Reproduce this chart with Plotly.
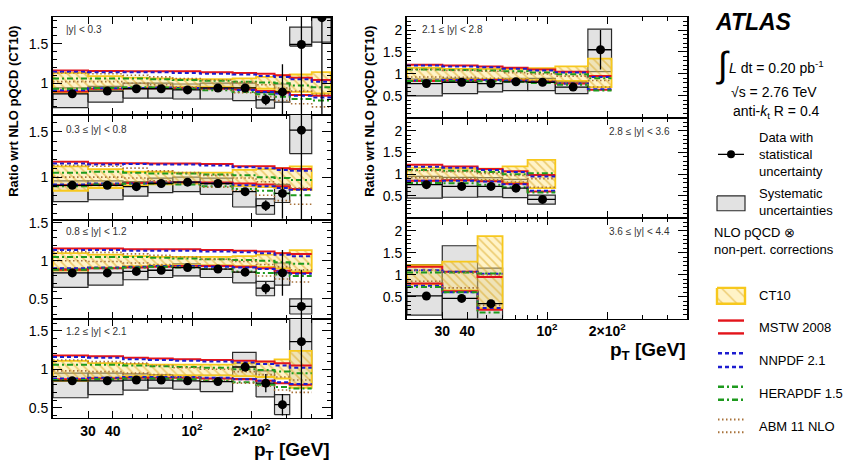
import math
import plotly.graph_objects as go

W, H = 843, 462
FONT = "Liberation Sans, Arial, Helvetica, sans-serif"

# ---------------- data ----------------
pt_edges = [20, 30, 45, 60, 80, 110, 160, 210, 260, 310, 400, 500]
pt_centers = [25, 37.5, 52.5, 70, 95, 135, 185, 235, 285, 355, 450]

# |y| < 0.3
l1_ratio = [0.865, 0.90, 0.93, 0.93, 0.915, 0.94, 0.94, 0.79, 0.89, 1.49, 1.83]
l1_stat = [0.01, 0.01, 0.01, 0.01, 0.01, 0.015, 0.03, 0.07, 0.35, 0.95, 1.3]
l1_sys_lo = [0.69, 0.76, 0.81, 0.81, 0.80, 0.80, 0.78, 0.685, 0.76, 1.47, 1.52]
l1_sys_hi = [0.94, 0.96, 1.00, 1.00, 0.99, 1.00, 1.00, 0.88, 0.99, 1.71, 2.2]
l1_ct10_lo = [0.88, 0.92, 0.94, 0.95, 0.95, 0.95, 0.94, 0.93, 0.90, 0.89, 0.87]
l1_ct10_hi = [1.13, 1.09, 1.07, 1.06, 1.05, 1.05, 1.06, 1.08, 1.10, 1.11, 1.14]
l1_mstw_lo = [0.895, 0.93, 0.935, 0.935, 0.935, 0.93, 0.92, 0.90, 0.88, 0.85, 0.84]
l1_mstw_hi = [1.16, 1.155, 1.15, 1.15, 1.15, 1.14, 1.13, 1.12, 1.10, 1.07, 1.04]
l1_nnpdf_lo = [0.91, 0.935, 0.94, 0.945, 0.94, 0.93, 0.915, 0.89, 0.87, 0.84, 0.82]
l1_nnpdf_hi = [1.145, 1.14, 1.14, 1.14, 1.13, 1.12, 1.11, 1.09, 1.08, 1.05, 1.02]
l1_hera_lo = [0.93, 0.94, 0.95, 0.945, 0.93, 0.91, 0.89, 0.86, 0.83, 0.80, 0.78]
l1_hera_hi = [1.06, 1.06, 1.06, 1.05, 1.04, 1.03, 1.02, 1.01, 1.00, 0.97, 0.95]
l1_abm_lo = [1.02, 1.02, 1.00, 0.98, 0.95, 0.92, 0.88, 0.83, 0.78, 0.74, 0.70]
l1_abm_hi = [1.13, 1.12, 1.10, 1.08, 1.06, 1.04, 1.01, 0.98, 0.94, 0.90, 0.86]

# 0.3 <= |y| < 0.8
l2_ratio = [0.91, 0.91, 0.895, 0.93, 0.945, 0.93, 0.84, 0.685, 0.82, 1.52]
l2_stat = [0.01, 0.01, 0.01, 0.01, 0.01, 0.015, 0.04, 0.06, 0.28, 1.0]
l2_sys_lo = [0.73, 0.75, 0.79, 0.83, 0.84, 0.81, 0.67, 0.59, 0.72, 1.26]
l2_sys_hi = [0.96, 0.96, 0.95, 0.99, 1.00, 0.99, 0.93, 0.76, 0.92, 1.80]
l2_ct10_lo = [0.85, 0.88, 0.91, 0.92, 0.93, 0.93, 0.90, 0.89, 0.88, 0.86]
l2_ct10_hi = [1.12, 1.09, 1.06, 1.06, 1.05, 1.05, 1.08, 1.09, 1.10, 1.12]
l2_mstw_lo = [0.91, 0.92, 0.935, 0.94, 0.945, 0.94, 0.93, 0.92, 0.90, 0.87]
l2_mstw_hi = [1.17, 1.155, 1.155, 1.15, 1.15, 1.145, 1.12, 1.12, 1.10, 1.09]
l2_nnpdf_lo = [0.92, 0.93, 0.93, 0.94, 0.94, 0.93, 0.91, 0.90, 0.88, 0.86]
l2_nnpdf_hi = [1.15, 1.14, 1.145, 1.14, 1.14, 1.13, 1.11, 1.10, 1.08, 1.07]
l2_hera_lo = [0.90, 0.92, 0.93, 0.93, 0.92, 0.90, 0.87, 0.85, 0.82, 0.80]
l2_hera_hi = [1.05, 1.06, 1.05, 1.04, 1.04, 1.03, 1.02, 1.00, 0.99, 0.97]
l2_abm_lo = [1.00, 1.00, 0.99, 0.96, 0.93, 0.89, 0.85, 0.80, 0.74, 0.70]
l2_abm_hi = [1.13, 1.12, 1.10, 1.07, 1.05, 1.02, 0.99, 0.95, 0.92, 0.88]

# 0.8 <= |y| < 1.2
l3_ratio = [0.84, 0.84, 0.86, 0.875, 0.91, 0.89, 0.85, 0.64, 0.84, 0.40]
l3_stat = [0.01, 0.01, 0.01, 0.01, 0.01, 0.015, 0.04, 0.08, 0.30, 0.48]
l3_sys_lo = [0.65, 0.68, 0.75, 0.78, 0.80, 0.78, 0.71, 0.54, 0.68, 0.30]
l3_sys_hi = [0.90, 0.90, 0.92, 0.93, 0.96, 0.94, 0.92, 0.73, 0.97, 0.50]
l3_ct10_lo = [0.87, 0.91, 0.93, 0.94, 0.94, 0.94, 0.93, 0.92, 0.90, 0.86]
l3_ct10_hi = [1.10, 1.08, 1.06, 1.05, 1.05, 1.05, 1.06, 1.08, 1.10, 1.14]
l3_mstw_lo = [0.88, 0.90, 0.91, 0.92, 0.93, 0.93, 0.92, 0.90, 0.87, 0.84]
l3_mstw_hi = [1.16, 1.16, 1.15, 1.15, 1.15, 1.14, 1.13, 1.12, 1.10, 1.09]
l3_nnpdf_lo = [0.90, 0.91, 0.92, 0.93, 0.93, 0.92, 0.91, 0.89, 0.86, 0.83]
l3_nnpdf_hi = [1.14, 1.14, 1.13, 1.13, 1.13, 1.12, 1.11, 1.10, 1.08, 1.06]
l3_hera_lo = [0.88, 0.90, 0.91, 0.92, 0.91, 0.89, 0.86, 0.84, 0.82, 0.80]
l3_hera_hi = [1.05, 1.05, 1.05, 1.04, 1.03, 1.02, 1.01, 1.00, 0.98, 0.96]
l3_abm_lo = [1.00, 0.99, 0.97, 0.95, 0.92, 0.89, 0.85, 0.80, 0.76, 0.72]
l3_abm_hi = [1.12, 1.11, 1.09, 1.07, 1.05, 1.02, 0.99, 0.95, 0.92, 0.88]

# 1.2 <= |y| < 2.1
l4_ratio = [0.85, 0.85, 0.86, 0.86, 0.85, 0.84, 1.03, 0.82, 0.54, 1.36]
l4_stat = [0.01, 0.01, 0.01, 0.01, 0.01, 0.015, 0.06, 0.12, 0.14, 1.1]
l4_sys_lo = [0.63, 0.67, 0.73, 0.755, 0.74, 0.71, 0.88, 0.64, 0.41, 0.80]
l4_sys_hi = [0.95, 0.95, 0.94, 0.93, 0.92, 0.92, 1.22, 0.98, 0.67, 1.90]
l4_ct10_lo = [0.85, 0.89, 0.91, 0.92, 0.92, 0.92, 0.91, 0.90, 0.88, 0.76]
l4_ct10_hi = [1.11, 1.08, 1.07, 1.06, 1.06, 1.06, 1.08, 1.10, 1.13, 1.24]
l4_mstw_lo = [0.87, 0.88, 0.89, 0.89, 0.89, 0.88, 0.87, 0.85, 0.82, 0.80]
l4_mstw_hi = [1.18, 1.17, 1.15, 1.14, 1.13, 1.12, 1.11, 1.10, 1.08, 1.05]
l4_nnpdf_lo = [0.88, 0.89, 0.90, 0.90, 0.90, 0.89, 0.87, 0.85, 0.83, 0.81]
l4_nnpdf_hi = [1.16, 1.15, 1.13, 1.12, 1.11, 1.10, 1.09, 1.07, 1.05, 1.02]
l4_hera_lo = [0.86, 0.87, 0.88, 0.88, 0.87, 0.85, 0.83, 0.80, 0.77, 0.75]
l4_hera_hi = [1.06, 1.06, 1.05, 1.04, 1.03, 1.02, 1.00, 0.99, 0.97, 0.95]
l4_abm_lo = [0.98, 0.97, 0.95, 0.93, 0.90, 0.86, 0.82, 0.78, 0.73, 0.70]
l4_abm_hi = [1.12, 1.10, 1.08, 1.05, 1.02, 1.00, 0.97, 0.93, 0.90, 0.86]

# 2.1 <= |y| < 2.8
r1_ratio = [0.78, 0.81, 0.78, 0.82, 0.81, 0.70, 1.55]
r1_stat = [0.01, 0.01, 0.015, 0.02, 0.03, 0.05, 0.45]
r1_sys_lo = [0.50, 0.55, 0.59, 0.62, 0.62, 0.55, 1.05]
r1_sys_hi = [0.88, 0.90, 0.88, 0.90, 0.90, 0.82, 2.02]
r1_ct10_lo = [0.85, 0.87, 0.88, 0.88, 0.86, 0.84, 0.70]
r1_ct10_hi = [1.14, 1.12, 1.11, 1.11, 1.13, 1.17, 1.35]
r1_mstw_lo = [0.84, 0.85, 0.86, 0.85, 0.82, 0.78, 0.64]
r1_mstw_hi = [1.21, 1.19, 1.17, 1.14, 1.10, 1.05, 0.95]
r1_nnpdf_lo = [0.85, 0.86, 0.86, 0.85, 0.82, 0.78, 0.65]
r1_nnpdf_hi = [1.19, 1.17, 1.15, 1.12, 1.08, 1.03, 0.93]
r1_hera_lo = [0.84, 0.84, 0.83, 0.82, 0.79, 0.75, 0.62]
r1_hera_hi = [1.10, 1.09, 1.08, 1.06, 1.03, 0.99, 0.90]
r1_abm_lo = [0.93, 0.92, 0.90, 0.88, 0.85, 0.80, 0.70]
r1_abm_hi = [1.10, 1.08, 1.06, 1.03, 1.00, 0.95, 0.85]

# 2.8 <= |y| < 3.6
r2_ratio = [0.76, 0.72, 0.72, 0.68, 0.42]
r2_stat = [0.01, 0.015, 0.02, 0.03, 0.05]
r2_sys_lo = [0.45, 0.47, 0.48, 0.46, 0.31]
r2_sys_hi = [0.95, 0.93, 0.92, 0.88, 0.52]
r2_ct10_lo = [0.84, 0.86, 0.85, 0.80, 0.68]
r2_ct10_hi = [1.15, 1.13, 1.13, 1.18, 1.33]
r2_mstw_lo = [0.85, 0.86, 0.84, 0.78, 0.60]
r2_mstw_hi = [1.22, 1.18, 1.12, 1.07, 0.98]
r2_nnpdf_lo = [0.85, 0.85, 0.83, 0.77, 0.62]
r2_nnpdf_hi = [1.17, 1.15, 1.10, 1.05, 0.95]
r2_hera_lo = [0.80, 0.79, 0.76, 0.70, 0.58]
r2_hera_hi = [1.10, 1.08, 1.05, 1.00, 1.02]
r2_abm_lo = [0.92, 0.90, 0.87, 0.82, 0.70]
r2_abm_hi = [1.08, 1.06, 1.02, 0.97, 0.90]

# 3.6 <= |y| < 4.4
r3_ratio = [0.515, 0.46, 0.34]
r3_stat = [0.02, 0.03, 0.05]
r3_sys_lo = [0.08, 0.0, 0.0]
r3_sys_hi = [1.23, 1.66, 1.15]
r3_ct10_lo = [0.78, 0.64, 0.24]
r3_ct10_hi = [1.22, 1.30, 1.88]
r3_mstw_lo = [0.80, 0.62, 0.20]
r3_mstw_hi = [1.18, 1.07, 0.95]
r3_nnpdf_lo = [0.75, 0.60, 0.24]
r3_nnpdf_hi = [1.10, 1.07, 1.02]
r3_hera_lo = [0.72, 0.60, 0.14]
r3_hera_hi = [1.05, 1.05, 1.03]
r3_abm_lo = [0.85, 0.70, 0.30]
r3_abm_hi = [1.10, 1.05, 1.00]

rapidity_labels = ["|y| < 0.3", "0.3 \u2264 |y| < 0.8", "0.8 \u2264 |y| < 1.2", "1.2 \u2264 |y| < 2.1",
                   "2.1 \u2264 |y| < 2.8", "2.8 \u2264 |y| < 3.6", "3.6 \u2264 |y| < 4.4"]
model_names = ["CT10", "MSTW 2008", "NNPDF 2.1", "HERAPDF 1.5", "ABM 11 NLO"]

# ---------------- layout helpers ----------------
def fx(x):
    return x / W

def fy(y):
    return 1 - y / H

panels = [
    dict(d=(l1_ratio, l1_stat, l1_sys_lo, l1_sys_hi),
         th=(l1_ct10_lo, l1_ct10_hi, l1_mstw_lo, l1_mstw_hi, l1_nnpdf_lo, l1_nnpdf_hi, l1_hera_lo, l1_hera_hi, l1_abm_lo, l1_abm_hi),
         px=(53, 331), py=(12, 111), yr=(0.60, 1.84), lab=(64, 25, "left"), xlab=False),
    dict(d=(l2_ratio, l2_stat, l2_sys_lo, l2_sys_hi),
         th=(l2_ct10_lo, l2_ct10_hi, l2_mstw_lo, l2_mstw_hi, l2_nnpdf_lo, l2_nnpdf_hi, l2_hera_lo, l2_hera_hi, l2_abm_lo, l2_abm_hi),
         px=(53, 331), py=(111, 217), yr=(0.53, 1.69), lab=(64, 126, "left"), xlab=False),
    dict(d=(l3_ratio, l3_stat, l3_sys_lo, l3_sys_hi),
         th=(l3_ct10_lo, l3_ct10_hi, l3_mstw_lo, l3_mstw_hi, l3_nnpdf_lo, l3_nnpdf_hi, l3_hera_lo, l3_hera_hi, l3_abm_lo, l3_abm_hi),
         px=(53, 331), py=(217, 317), yr=(0.24, 1.54), lab=(64, 229, "left"), xlab=False),
    dict(d=(l4_ratio, l4_stat, l4_sys_lo, l4_sys_hi),
         th=(l4_ct10_lo, l4_ct10_hi, l4_mstw_lo, l4_mstw_hi, l4_nnpdf_lo, l4_nnpdf_hi, l4_hera_lo, l4_hera_hi, l4_abm_lo, l4_abm_hi),
         px=(53, 331), py=(317, 418), yr=(0.36, 1.66), lab=(64, 330, "left"), xlab=True),
    dict(d=(r1_ratio, r1_stat, r1_sys_lo, r1_sys_hi),
         th=(r1_ct10_lo, r1_ct10_hi, r1_mstw_lo, r1_mstw_hi, r1_nnpdf_lo, r1_nnpdf_hi, r1_hera_lo, r1_hera_hi, r1_abm_lo, r1_abm_hi),
         px=(407, 687), py=(12, 114), yr=(0.0, 2.3), lab=(420, 25, "left"), xlab=False),
    dict(d=(r2_ratio, r2_stat, r2_sys_lo, r2_sys_hi),
         th=(r2_ct10_lo, r2_ct10_hi, r2_mstw_lo, r2_mstw_hi, r2_nnpdf_lo, r2_nnpdf_hi, r2_hera_lo, r2_hera_hi, r2_abm_lo, r2_abm_hi),
         px=(407, 687), py=(114, 215), yr=(0.0, 2.3), lab=(672, 128, "right"), xlab=False),
    dict(d=(r3_ratio, r3_stat, r3_sys_lo, r3_sys_hi),
         th=(r3_ct10_lo, r3_ct10_hi, r3_mstw_lo, r3_mstw_hi, r3_nnpdf_lo, r3_nnpdf_hi, r3_hera_lo, r3_hera_hi, r3_abm_lo, r3_abm_hi),
         px=(407, 687), py=(215, 317), yr=(0.0, 2.3), lab=(672, 229, "right"), xlab=True),
]

C_YEL_LINE = "#F7C81C"
C_HATCH = "#D9A31A"
C_YEL_FILL = "rgba(255,228,130,0.45)"
C_RED = "#E3141B"
C_BLUE = "#1C1CD0"
C_GREEN = "#1E9A1E"
C_BROWN = "#A8723A"
C_GREY = "#E2E2E2"

line_styles = [
    (C_RED, "solid", 2.0),
    (C_BLUE, "4px,3px", 2.0),
    (C_GREEN, "6px,3px,2px,3px", 2.0),
    (C_BROWN, "1.5px,2.5px", 1.6),
]

fig = go.Figure()
annotations = []
layout = {}

for i, p in enumerate(panels, start=1):
    xa, ya = f"x{i}", f"y{i}"
    ratio, stat, sys_lo, sys_hi = p["d"]
    ct_lo, ct_hi = p["th"][0], p["th"][1]
    e = pt_edges
    n = len(ratio)
    nt = len(ct_lo)

    # systematic boxes
    bx, by = [], []
    for k in range(n):
        bx += [e[k], e[k + 1], e[k + 1], e[k], e[k], None]
        by += [sys_lo[k], sys_lo[k], sys_hi[k], sys_hi[k], sys_lo[k], None]
    fig.add_trace(go.Scatter(x=bx, y=by, xaxis=xa, yaxis=ya, mode="lines", fill="toself",
                             fillcolor=C_GREY, line=dict(color="#2a2a2a", width=1.2),
                             hoverinfo="skip", showlegend=False))

    # CT10 hatched band
    ux, uy, lx, ly = [], [], [], []
    for k in range(nt):
        ux += [e[k], e[k + 1]]
        uy += [ct_hi[k], ct_hi[k]]
    for k in reversed(range(nt)):
        lx += [e[k + 1], e[k]]
        ly += [ct_lo[k], ct_lo[k]]
    fig.add_trace(go.Scatter(x=ux + lx + [ux[0]], y=uy + ly + [uy[0]], xaxis=xa, yaxis=ya,
                             mode="lines", fill="toself", fillcolor=C_YEL_FILL,
                             fillpattern=dict(shape="\\", fgcolor=C_HATCH, size=6, solidity=0.28,
                                              fillmode="overlay"),
                             line=dict(color=C_YEL_LINE, width=1.8),
                             hoverinfo="skip", showlegend=False))

    # other PDF sets: lower and upper edges as step lines
    for j, (col, dash, wid) in enumerate(line_styles):
        for vals in (p["th"][2 + 2 * j], p["th"][3 + 2 * j]):
            fig.add_trace(go.Scatter(x=e[:len(vals) + 1], y=list(vals) + [vals[-1]], xaxis=xa, yaxis=ya,
                                     mode="lines", line=dict(shape="hv", color=col, dash=dash, width=wid),
                                     hoverinfo="skip", showlegend=False))

    # data with statistical uncertainty
    cx = pt_centers[:n]
    fig.add_trace(go.Scatter(x=cx, y=ratio, xaxis=xa, yaxis=ya, mode="markers",
                             marker=dict(color="black", size=9),
                             error_y=dict(type="data", array=stat, width=0, thickness=1.3, color="black"),
                             error_x=dict(type="data", array=[e[k + 1] - cx[k] for k in range(n)],
                                          arrayminus=[cx[k] - e[k] for k in range(n)],
                                          width=0, thickness=1.3, color="black"),
                             hoverinfo="skip", showlegend=False))

    axis_common = dict(showline=True, linecolor="black", mirror="allticks",
                       ticks="inside", tickcolor="black", showgrid=False, zeroline=False)
    layout[f"xaxis{i}"] = dict(
        type="log", range=[math.log10(20), math.log10(500)],
        domain=[fx(p["px"][0]), fx(p["px"][1])], anchor=ya, linewidth=1,
        tickmode="array", tickvals=[30, 40, 100, 200],
        ticktext=["<b>30</b>", "<b>40</b>", "<b>10<sup>2</sup></b>", "<b>2\u00d710<sup>2</sup></b>"],
        ticklen=7, tickwidth=1.2, showticklabels=p["xlab"],
        tickfont=dict(family=FONT, size=14, color="black"), ticklabelstandoff=0,
        minor=dict(ticks="inside", ticklen=4, tickcolor="black",
                   tickvals=[20, 50, 60, 70, 80, 90, 300, 400, 500]),
        **axis_common)
    layout[f"yaxis{i}"] = dict(
        range=list(p["yr"]), domain=[fy(p["py"][1]), fy(p["py"][0])], anchor=xa, linewidth=1.8,
        tickmode="array", tickvals=[0.5, 1, 1.5, 2], ticktext=["0.5", "1", "1.5", "2"],
        ticklen=9, tickwidth=1.2,
        tickfont=dict(family=FONT, size=14, color="black"),
        minor=dict(ticks="inside", ticklen=4, dtick=0.1, tick0=0, tickcolor="black"),
        **axis_common)

    lx_, ly_, anc = p["lab"]
    annotations.append(dict(x=fx(lx_), y=fy(ly_), xref="paper", yref="paper", xanchor=anc,
                            yanchor="middle", text=rapidity_labels[i - 1], showarrow=False,
                            font=dict(family=FONT, size=10, color="#333")))

# ---------------- legend area (overlay axis in pixel units) ----------------
LX, LY = "x8", "y8"
layout["xaxis8"] = dict(domain=[0, 1], range=[0, W], visible=False, anchor="y8")
layout["yaxis8"] = dict(domain=[0, 1], range=[H, 0], visible=False, anchor="x8")

fig.add_trace(go.Scatter(x=[718, 744], y=[151, 151], xaxis=LX, yaxis=LY, mode="lines",
                         line=dict(color="black", width=1.3), hoverinfo="skip", showlegend=False))
fig.add_trace(go.Scatter(x=[731], y=[151], xaxis=LX, yaxis=LY, mode="markers",
                         marker=dict(color="black", size=8), hoverinfo="skip", showlegend=False))
fig.add_trace(go.Scatter(x=[717, 745, 745, 717, 717], y=[193, 193, 208, 208, 193], xaxis=LX, yaxis=LY,
                         mode="lines", fill="toself", fillcolor=C_GREY,
                         line=dict(color="#2a2a2a", width=1.2), hoverinfo="skip", showlegend=False))
fig.add_trace(go.Scatter(x=[717, 745, 745, 717, 717], y=[286, 286, 302, 302, 286], xaxis=LX, yaxis=LY,
                         mode="lines", fill="toself", fillcolor=C_YEL_FILL,
                         fillpattern=dict(shape="\\", fgcolor=C_HATCH, size=10, solidity=0.15, fillmode="overlay"),
                         line=dict(color=C_YEL_LINE, width=2.4), hoverinfo="skip", showlegend=False))
leg_y = [(319, 332), (352, 366), (386, 399), (419, 432)]
for (col, dash, wid), (ya_, yb_) in zip(line_styles, leg_y):
    for yy in (ya_, yb_):
        fig.add_trace(go.Scatter(x=[718, 744], y=[yy, yy], xaxis=LX, yaxis=LY, mode="lines",
                                 line=dict(color=col, dash=dash, width=wid + 0.4),
                                 hoverinfo="skip", showlegend=False))

def txt(x, y, s, size=13, anchor="left", **kw):
    annotations.append(dict(x=fx(x), y=fy(y), xref="paper", yref="paper", xanchor=anchor,
                            yanchor="middle", text=s, showarrow=False, align="left",
                            font=dict(family=FONT, size=size, color="black"), **kw))

txt(713, 17, "<b><i>ATLAS</i></b>", size=23)
txt(714, 60, "\u222b", size=36)
txt(727, 63, "<i>L</i> dt = 0.20 pb<sup>-1</sup>", size=14)
txt(729, 88, "\u221as = 2.76 TeV", size=14)
txt(731, 108, "anti-<i>k</i><sub>t</sub> R = 0.4", size=14)
txt(757, 151, "Data with<br>statistical<br>uncertainty", size=13)
txt(757, 199, "Systematic<br>uncertainties", size=13)
txt(712, 239, "NLO pQCD \u2297<br>non-pert. corrections", size=13)
for name, yy in zip(model_names, [294, 326, 359, 393, 426]):
    txt(757, yy, name, size=13)

# axis titles
txt(14, 108, "<b>Ratio wrt NLO pQCD (CT10)</b>", size=13, anchor="center", textangle=-90)
txt(370, 108, "<b>Ratio wrt NLO pQCD (CT10)</b>", size=13, anchor="center", textangle=-90)
txt(332, 451, "<b>p<sub>T</sub> [GeV]</b>", size=19, anchor="right")
txt(688, 350, "<b>p<sub>T</sub> [GeV]</b>", size=19, anchor="right")

fig.update_layout(width=W, height=H, margin=dict(l=0, r=0, t=0, b=0),
                  paper_bgcolor="white", plot_bgcolor="rgba(0,0,0,0)",
                  showlegend=False, annotations=annotations, **layout)

fig.write_html("out.html")
